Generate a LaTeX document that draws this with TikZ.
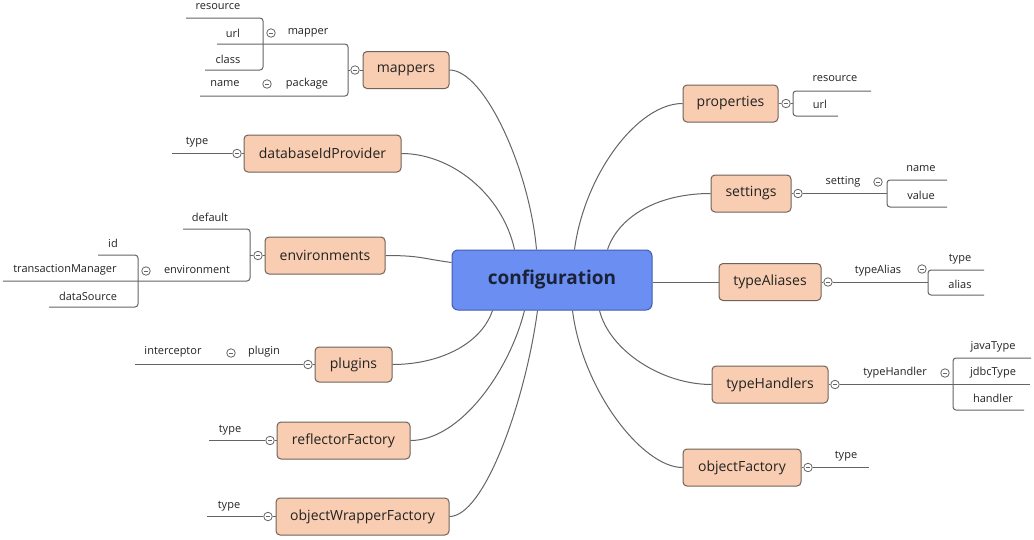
\documentclass[tikz,border=0pt]{standalone}
\usepackage{fontspec}
\setmainfont{Open Sans}
\usetikzlibrary{calc}
\definecolor{peach}{HTML}{F9CDB1}
\definecolor{peachline}{HTML}{6F625A}
\definecolor{confblue}{HTML}{6B8EF2}
\definecolor{confline}{HTML}{3F5CB0}
\definecolor{lnc}{HTML}{646464}
\definecolor{txt}{HTML}{222222}
\definecolor{roottxt}{HTML}{1A2238}
\begin{document}
\begin{tikzpicture}[x=1pt,y=-1pt,
  topic/.style={draw=peachline, fill=peach, rounded corners=4pt, line width=1pt, minimum height=37pt, inner sep=0pt, font=\fontsize{14}{16}\selectfont, text=txt},
  root/.style={draw=confline, fill=confblue, rounded corners=6pt, line width=1pt, minimum width=200pt, minimum height=60pt, font=\fontsize{19}{21}\selectfont\bfseries, text=roottxt},
  lbl/.style={font=\fontsize{11}{13}\selectfont, text=txt, inner sep=0pt},
  coll/.style={circle, draw=lnc, fill=white, line width=0.8pt, minimum size=8.5pt, inner sep=0pt,
    path picture={\draw[lnc,line width=0.8pt] ([xshift=-2.2pt]path picture bounding box.center) -- ([xshift=2.2pt]path picture bounding box.center);}},
  ln/.style={draw=lnc, line width=1pt},
  br/.style={draw=lnc, line width=1pt, rounded corners=3pt},
]
\useasboundingbox (0,0) rectangle (1034,539);

% ---------- root ----------
\node[root] (conf) at (552,280) {configuration};

% ---------- topics ----------
\node[topic, minimum width=86pt]  (mappers) at (406,70) {mappers};
\node[topic, minimum width=157pt] (dbid)    at (322.5,153.5) {databaseIdProvider};
\node[topic, minimum width=120pt] (env)     at (325,255.5) {environments};
\node[topic, minimum width=77pt, minimum height=35pt] (plugins) at (353.5,364.5) {plugins};
\node[topic, minimum width=133pt] (refl)    at (343.5,440.5) {reflectorFactory};
\node[topic, minimum width=173pt] (owf)     at (362.5,516.5) {objectWrapperFactory};
\node[topic, minimum width=95pt]  (props)   at (730.5,103.5) {properties};
\node[topic, minimum width=80pt]  (settings) at (751,193.5) {settings};
\node[topic, minimum width=102pt] (talias)  at (770,282) {typeAliases};
\node[topic, minimum width=116pt] (thand)   at (770,384.5) {typeHandlers};
\node[topic, minimum width=118pt] (ofac)    at (742,467.5) {objectFactory};

% ---------- root connectors ----------
\draw[ln] (mappers.east) .. controls +(35,0) and +(-7,-80) .. ($(conf.north west)+(85,0)$);
\draw[ln] (dbid.east) .. controls +(50,0) and +(-12,-55) .. ($(conf.north west)+(63,0)$);
\draw[ln] (env.east) .. controls +(35,0) and +(-30,-4) .. ($(conf.north west)+(0,13)$);
\draw[ln] (plugins.east) .. controls +(45,0) and +(-12,35) .. ($(conf.south west)+(41,0)$);
\draw[ln] (refl.east) .. controls +(50,0) and +(-15,60) .. ($(conf.south west)+(73,0)$);
\draw[ln] (owf.east) .. controls +(35,0) and +(-12,90) .. ($(conf.south west)+(86,0)$);
\draw[ln] (props.west) .. controls +(-45,0) and +(10,-75) .. ($(conf.north west)+(123,0)$);
\draw[ln] (settings.west) .. controls +(-50,0) and +(12,-35) .. ($(conf.north west)+(156,0)$);
\draw[ln] (talias.west) -- (talias.west -| conf.east);
\draw[ln] (thand.west) .. controls +(-50,0) and +(10,40) .. ($(conf.south west)+(148,0)$);
\draw[ln] (ofac.west) .. controls +(-40,0) and +(10,80) .. ($(conf.south west)+(121,0)$);

% ---------- mappers ----------
\coordinate (mapperL) at (217,44);
\coordinate (pkgL) at (200,96);
\draw[br] (mapperL) -| (348,96) -- (pkgL);
\coordinate (resL) at (186,18);
\coordinate (classL) at (205,70);
\draw[br] (resL) -| (263,70) -- (classL);
\node[coll] (cmap) at (355,70) {};
\draw[ln] (cmap.east) -- (mappers.west);
\draw[ln] (348,70) -- (cmap.west);
\node[coll] (cmapper) at (271,33) {};
\node[coll] (cpkg) at (267,84) {};
\node[lbl] at (218,7) {resource};
\node[lbl] at (233,33) {url};
\node[lbl] at (228,59) {class};
\node[lbl] at (308,33) {mapper};
\node[lbl] at (225,84) {name};
\node[lbl] at (307,84) {package};

% ---------- databaseIdProvider ----------
\node[coll] (cdb) at (237,153.5) {};
\draw[ln] (cdb.east) -- (dbid.west);
\coordinate (dbL) at (172,153.5);
\draw[ln] (dbL) -- (cdb.west);
\node[lbl] at (197,142) {type};

% ---------- environments ----------
\coordinate (defL) at (183,229);
\coordinate (envL) at (3,281);
\draw[br] (defL) -| (250,281) -- (envL);
\coordinate (idL) at (98,255);
\coordinate (dsL) at (49,307);
\draw[br] (idL) -| (138,307) -- (dsL);
\node[coll] (cenv) at (258,255.5) {};
\draw[ln] (cenv.east) -- (env.west);
\draw[ln] (250,255.5) -- (cenv.west);
\node[coll] (cenv2) at (146,271) {};
\node[lbl] at (210,217) {default};
\node[lbl] at (197,270) {environment};
\node[lbl] at (113,243) {id};
\node[lbl] at (65,270) {transactionManager};
\node[lbl] at (88,296) {dataSource};

% ---------- plugins ----------
\node[coll] (cplug) at (308,364.5) {};
\draw[ln] (cplug.east) -- (plugins.west);
\coordinate (plugL) at (135,364.5);
\draw[ln] (plugL) -- (cplug.west);
\node[coll] (cplugin) at (231,353) {};
\node[lbl] at (173,352) {interceptor};
\node[lbl] at (264,352) {plugin};

% ---------- reflectorFactory ----------
\node[coll] (crefl) at (270,440.5) {};
\draw[ln] (crefl.east) -- (refl.west);
\coordinate (reflL) at (209,440.5);
\draw[ln] (reflL) -- (crefl.west);
\node[lbl] at (230,430) {type};

% ---------- objectWrapperFactory ----------
\node[coll] (cowf) at (268,516.5) {};
\draw[ln] (cowf.east) -- (owf.west);
\coordinate (owfL) at (207,516.5);
\draw[ln] (owfL) -- (cowf.west);
\node[lbl] at (229,506) {type};

% ---------- properties ----------
\coordinate (presR) at (871,91);
\coordinate (purlR) at (838,116);
\draw[br] (presR) -| (793,116) -- (purlR);
\node[coll] (cprops) at (786,103.5) {};
\draw[ln] (props.east) -- (cprops.west);
\draw[ln] (cprops.east) -- (793,103.5);
\node[lbl] at (835,79) {resource};
\node[lbl] at (820,104) {url};

% ---------- settings ----------
\coordinate (snameR) at (947,180);
\coordinate (svalR) at (947,207);
\draw[br] (snameR) -| (887,207) -- (svalR);
\node[coll] (cset) at (798,193.5) {};
\draw[ln] (settings.east) -- (cset.west);
\draw[ln] (cset.east) -- (887,193.5);
\node[coll] (csetting) at (878,182) {};
\node[lbl] at (843,182) {setting};
\node[lbl] at (921,169) {name};
\node[lbl] at (921,195) {value};

% ---------- typeAliases ----------
\coordinate (atypeR) at (984,270);
\coordinate (aaliasR) at (984,295);
\draw[br] (atypeR) -| (928,295) -- (aaliasR);
\node[coll] (calias) at (828,282) {};
\draw[ln] (talias.east) -- (calias.west);
\draw[ln] (calias.east) -- (928,282);
\node[coll] (ctalias) at (922,269) {};
\node[lbl] at (878,271) {typeAlias};
\node[lbl] at (960,259) {type};
\node[lbl] at (960,284) {alias};

% ---------- typeHandlers ----------
\coordinate (javaR) at (1031,358);
\coordinate (handR) at (1024,410);
\draw[br] (javaR) -| (953,410) -- (handR);
\node[coll] (chand) at (835,384.5) {};
\draw[ln] (thand.east) -- (chand.west);
\coordinate (jdbcR) at (1030,384.5);
\draw[ln] (chand.east) -- (jdbcR);
\node[coll] (cthand) at (945,373) {};
\node[lbl] at (895,373) {typeHandler};
\node[lbl] at (993,347) {javaType};
\node[lbl] at (993,373) {jdbcType};
\node[lbl] at (993,398) {handler};

% ---------- objectFactory ----------
\node[coll] (cofac) at (808,467.5) {};
\draw[ln] (ofac.east) -- (cofac.west);
\coordinate (ofR) at (869,467.5);
\draw[ln] (cofac.east) -- (ofR);
\node[lbl] at (846,456) {type};

\end{tikzpicture}
\end{document}
